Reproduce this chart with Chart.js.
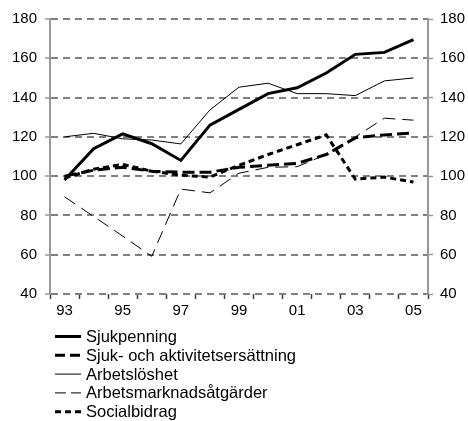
<!DOCTYPE html>
<html>
<head>
<meta charset="utf-8">
<script src="https://cdn.jsdelivr.net/npm/chart.js@4/dist/chart.umd.min.js"></script>
<style>
  body { margin: 0; background: #fff; }
  #wrap { width: 468px; height: 421px; }
</style>
</head>
<body>
<div id="wrap"><canvas id="myChart" width="468" height="421"></canvas></div>
<script>
const years = ["93", "94", "95", "96", "97", "98", "99", "00", "01", "02", "03", "04", "05"];

const sjukpenning   = [98, 114, 121.5, 116.5, 108, 126, 134, 142, 145, 152.5, 162, 163, 169.5];
const sjukAktivitet = [100, 103, 104.5, 102.5, 102, 102, 104.5, 105.5, 106.5, 111, 119.5, 121, 122];
const arbetsloshet  = [120, 121.8, 119, 118.4, 116.4, 133.7, 145.3, 147.3, 142, 142, 141, 148.5, 150];
const arbetsmarknad = [89.5, 79.5, 69.5, 59.2, 93.4, 91.5, 101.5, 104.5, 104.8, 111, 120, 129.5, 128.5];
const socialbidrag  = [99, 103.5, 106, 102.5, 100.5, 99.5, 105.5, 111, 116, 121, 98.5, 99.5, 97];

const FONT = "'Liberation Sans', Arial, sans-serif";
const GRID = "#808080";

// legend drawn inside the canvas, one row per series
const listLegend = {
  id: "listLegend",
  afterDraw(chart) {
    const ctx = chart.ctx;
    ctx.save();
    chart.data.datasets.forEach((ds, i) => {
      const y = 336.5 + i * 18.8;
      ctx.beginPath();
      ctx.lineWidth = ds.borderWidth;
      ctx.strokeStyle = ds.borderColor;
      ctx.setLineDash(ds.legendDash || ds.borderDash || []);
      ctx.moveTo(55, y);
      ctx.lineTo(81, y);
      ctx.stroke();
      ctx.setLineDash([]);
      ctx.fillStyle = "#000";
      ctx.font = "16.5px " + FONT;
      ctx.textBaseline = "middle";
      ctx.fillText(ds.label, 86, y + 1);
    });
    ctx.restore();
  }
};

const ctx = document.getElementById("myChart").getContext("2d");
const myChart = new Chart(ctx, {
  type: "line",
  data: {
    labels: years,
    datasets: [
      { label: "Sjukpenning", data: sjukpenning, borderColor: "#000", borderWidth: 3, borderDash: [] },
      { label: "Sjuk- och aktivitetsersättning", data: sjukAktivitet, borderColor: "#000", borderWidth: 3, borderDash: [12, 5], legendDash: [10, 5] },
      { label: "Arbetslöshet", data: arbetsloshet, borderColor: "#000", borderWidth: 1, borderDash: [] },
      { label: "Arbetsmarknadsåtgärder", data: arbetsmarknad, borderColor: "#000", borderWidth: 1, borderDash: [13, 7], legendDash: [11, 5] },
      { label: "Socialbidrag", data: socialbidrag, borderColor: "#000", borderWidth: 3, borderDash: [6, 4], legendDash: [6, 4] }
    ]
  },
  options: {
    responsive: false,
    animation: false,
    devicePixelRatio: 1,
    elements: { point: { radius: 0 }, line: { tension: 0 } },
    layout: { padding: { top: 19, bottom: 100, left: 0, right: 0 } },
    plugins: { legend: { display: false }, tooltip: { enabled: false } },
    scales: {
      x: {
        type: "category",
        offset: true,
        grid: { offset: true, drawOnChartArea: false, drawTicks: true, tickLength: 5, tickColor: "#404040", tickWidth: 1.5 },
        border: { display: false },
        ticks: {
          autoSkip: false, maxRotation: 0, padding: 3, color: "#000",
          font: { family: FONT, size: 15 },
          callback: function (value, index) { return index % 2 === 0 ? this.getLabelForValue(value) : ""; }
        },
        afterFit: s => { s.height = 27; }
      },
      y: {
        position: "left",
        min: 40, max: 180,
        grid: { color: GRID, lineWidth: 2, tickLength: 5, tickColor: "#999", tickWidth: 1.5 },
        border: { display: true, color: "#999", width: 2, dash: [7, 5] },
        ticks: { stepSize: 20, padding: 8, color: "#000", font: { family: FONT, size: 15 } },
        afterFit: s => { s.width = 50; }
      },
      y2: {
        position: "right",
        min: 40, max: 180,
        grid: { drawOnChartArea: false, tickLength: 5, tickColor: "#999", tickWidth: 1.5 },
        border: { display: true, color: "#999", width: 2 },
        ticks: { stepSize: 20, padding: 7, color: "#000", font: { family: FONT, size: 15 } },
        afterFit: s => { s.width = 40; }
      }
    }
  },
  plugins: [listLegend]
});
</script>
</body>
</html>
